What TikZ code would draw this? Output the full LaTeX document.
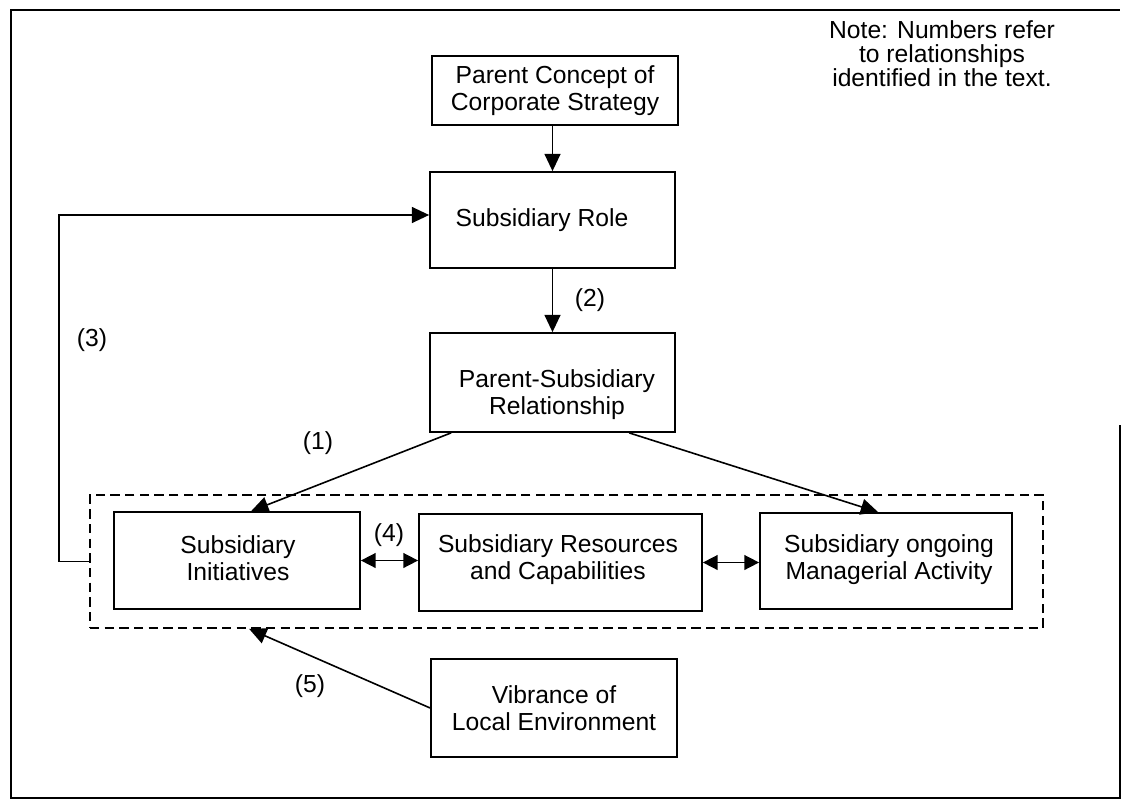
\documentclass[tikz,border=0pt]{standalone}
\usepackage{fontspec}
\setmainfont{Liberation Sans}
\usetikzlibrary{arrows.meta,calc}
\begin{document}
\begin{tikzpicture}[x=0.75pt,y=-0.75pt,
  box/.style={draw,line width=1.3pt,inner sep=0pt},
  txt/.style={align=center,inner sep=0pt,font=\fontsize{18.5}{20.3}\selectfont},
  notetxt/.style={align=center,inner sep=0pt,font=\fontsize{18.5}{18}\selectfont},
  grpbox/.style={draw,line width=1.3pt,dash pattern=on 7pt off 4pt,inner sep=0pt},
  arr/.style={line width=1.2pt,-{Triangle[length=13pt,width=12pt]}},
  darr/.style={line width=1.2pt,{Triangle[length=11pt,width=11pt]}-{Triangle[length=11pt,width=11pt]}},
  ln/.style={line width=1.3pt}]
\useasboundingbox (0,0) rectangle (1122,800);
% outer frame
\draw[ln] (1120,425) -- (1120,798) -- (11,798) -- (11,10) -- (1120,10);
% note
\node[notetxt] (note) at (942,54) {Note: Numbers refer\\to relationships\\identified in the text.};
% boxes
\node[box,minimum width=184.5pt,minimum height=51.75pt] (parent) at (555,90.5) {};
\node[txt] (parentt) at (555,91) {Parent Concept of\\Corporate Strategy};
\node[box,minimum width=183.75pt,minimum height=72pt] (role) at (552.5,220) {};
\node[txt] (rolet) at (542,220) {Subsidiary Role};
\node[box,minimum width=183.75pt,minimum height=74.25pt] (ps) at (552.5,382.5) {};
\node[txt] (pst) at (557,395) {Parent-Subsidiary\\Relationship};
\node[grpbox,minimum width=714.75pt,minimum height=99.75pt] (grp) at (566.5,561.5) {};
\node[box,minimum width=184.5pt,minimum height=72.75pt] (init) at (237,560.5) {};
\node[txt] (initt) at (238,558) {Subsidiary\\Initiatives};
\node[box,minimum width=212.25pt,minimum height=72.75pt] (res) at (560.5,562.5) {};
\node[txt] (rest) at (558,560) {Subsidiary Resources\\and Capabilities};
\node[box,minimum width=189pt,minimum height=72pt] (man) at (886,561) {};
\node[txt] (mant) at (889,560) {Subsidiary ongoing\\Managerial Activity};
\node[box,minimum width=184.5pt,minimum height=73.5pt] (vib) at (554,708) {};
\node[txt] (vibt) at (554,708) {Vibrance of\\Local Environment};
% labels
\node[txt] (l1) at (318,443) {(1)};
\node[txt] (l2) at (590,300) {(2)};
\node[txt] (l3) at (92,340) {(3)};
\node[txt] (l4) at (389,535) {(4)};
\node[txt] (l5) at (310,686) {(5)};
% connectors
\draw[arr] (parent.south -| role.north) -- (role.north);
\draw[arr] (role.south) -- (ps.north);
\draw[arr] ($(ps.south west)+(22,0)$) -- ($(init.north west)+(138,0)$);
\draw[arr] ($(ps.south west)+(200,0)$) -- ($(man.north west)+(119,0)$);
\draw[darr] (init.east) -- (init.east -| res.west);
\draw[darr] (res.east) -- (res.east -| man.west);
\draw[arr] (grp.west) -- ++(-30,0) |- ($(role.west)+(0,-5)$);
\draw[arr] (vib.west) -- ($(grp.south west)+(160,0)$);
\end{tikzpicture}
\end{document}
